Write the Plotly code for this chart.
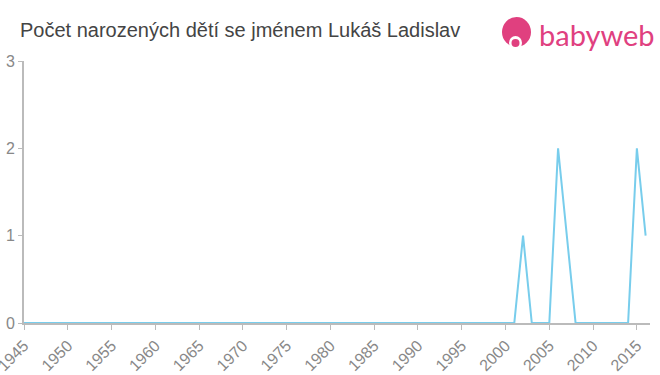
import plotly.graph_objects as go

years = [1945, 1946, 1947, 1948, 1949, 1950, 1951, 1952, 1953, 1954,
         1955, 1956, 1957, 1958, 1959, 1960, 1961, 1962, 1963, 1964,
         1965, 1966, 1967, 1968, 1969, 1970, 1971, 1972, 1973, 1974,
         1975, 1976, 1977, 1978, 1979, 1980, 1981, 1982, 1983, 1984,
         1985, 1986, 1987, 1988, 1989, 1990, 1991, 1992, 1993, 1994,
         1995, 1996, 1997, 1998, 1999, 2000, 2001, 2002, 2003, 2004,
         2005, 2006, 2007, 2008, 2009, 2010, 2011, 2012, 2013, 2014,
         2015, 2016]
counts = [0, 0, 0, 0, 0, 0, 0, 0, 0, 0,
          0, 0, 0, 0, 0, 0, 0, 0, 0, 0,
          0, 0, 0, 0, 0, 0, 0, 0, 0, 0,
          0, 0, 0, 0, 0, 0, 0, 0, 0, 0,
          0, 0, 0, 0, 0, 0, 0, 0, 0, 0,
          0, 0, 0, 0, 0, 0, 0, 1, 0, 0,
          0, 2, 1, 0, 0, 0, 0, 0, 0, 0,
          2, 1]
x_ticks = [1945, 1950, 1955, 1960, 1965, 1970, 1975, 1980, 1985, 1990,
           1995, 2000, 2005, 2010, 2015]
y_ticks = [0, 1, 2, 3]
title = "Počet narozených dětí se jménem Lukáš Ladislav"

FONT = "Liberation Sans"

fig = go.Figure()
fig.add_trace(go.Scatter(
    x=years, y=counts, mode="lines",
    line=dict(color="#78cdec", width=2),
    hoverinfo="x+y", showlegend=False,
))

fig.update_layout(
    width=660, height=375,
    margin=dict(l=24, r=10, t=61, b=52, autoexpand=False),
    paper_bgcolor="white", plot_bgcolor="white",
    font=dict(family=FONT, color="#888888"),
    title=dict(text=title, x=20 / 660, xanchor="left", y=1 - 30 / 375, yanchor="middle",
               font=dict(size=20, color="#444444", family=FONT)),
    xaxis=dict(
        range=[1945, 2016.5], tickmode="array", tickvals=x_ticks,
        ticktext=[str(t) for t in x_ticks], tickangle=-45,
        ticklabeloverflow="allow",
        showgrid=False, zeroline=False, automargin=False,
        showline=True, linecolor="#bbbbbb", linewidth=2,
        ticks="outside", ticklen=5, tickcolor="#bbbbbb", tickwidth=1,
        tickfont=dict(size=16, color="#888888", family=FONT),
    ),
    yaxis=dict(
        range=[0, 3], tickmode="array", tickvals=y_ticks,
        showgrid=False, zeroline=False, automargin=False,
        showline=True, linecolor="#bbbbbb", linewidth=2,
        ticks="outside", ticklen=4, tickcolor="#bbbbbb", tickwidth=1,
        tickfont=dict(size=16, color="#888888", family=FONT),
    ),
)

# babyweb logo
fig.add_shape(type="circle", xref="paper", yref="paper",
              x0=(502 - 24) / 626, x1=(531 - 24) / 626,
              y0=1 + (61 - 47) / 262, y1=1 + (61 - 17) / 262,
              fillcolor="#e0407f", line=dict(width=0), layer="above")
fig.add_shape(type="circle", xref="paper", yref="paper",
              x0=(509 - 24) / 626, x1=(522 - 24) / 626,
              y0=1 + (61 - 50) / 262, y1=1 + (61 - 36) / 262,
              fillcolor="white", line=dict(width=0), layer="above")
fig.add_shape(type="circle", xref="paper", yref="paper",
              x0=(511.5 - 24) / 626, x1=(519.5 - 24) / 626,
              y0=1 + (61 - 47) / 262, y1=1 + (61 - 39) / 262,
              fillcolor="#e0407f", line=dict(width=0), layer="above")
fig.add_annotation(text="babyweb", xref="paper", yref="paper",
                   x=(537 - 24) / 626, y=1 + (61 - 34) / 262,
                   xanchor="left", yanchor="middle", showarrow=False,
                   font=dict(size=29, color="#e0407f",
                             family="Lato, Liberation Sans, sans-serif"))

fig.write_html("out.html")
